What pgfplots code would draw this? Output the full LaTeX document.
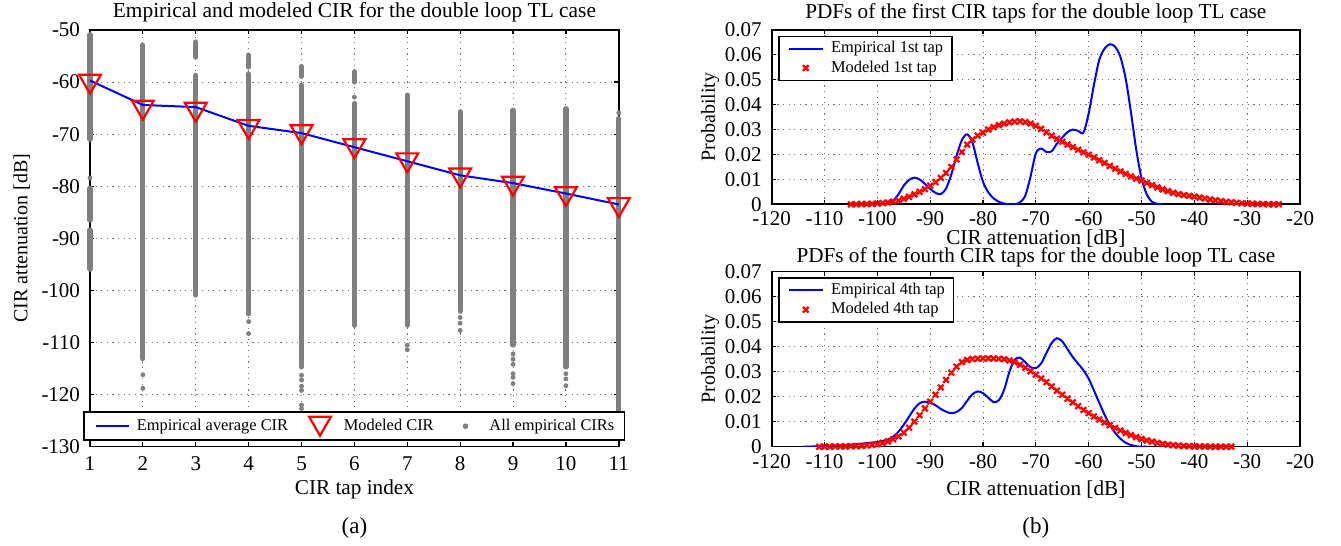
\documentclass[border=0pt]{standalone}
\usepackage{fontspec}
\setmainfont{Liberation Serif}
\usepackage{pgfplots}
\pgfplotsset{compat=1.18}
\definecolor{cirgray}{RGB}{128,128,128}

\pgfplotsset{
  matlab/.style={
    scale only axis, anchor=south west,
    axis line style={line width=0.8pt},
    tick align=inside, major tick length=2.2pt,
    tick style={black, line width=0.6pt},
    grid=major,
    grid style={line width=0.5pt, black!55, dash pattern=on 0.6pt off 2.2pt},
    tick label style={font=\fontsize{10.5}{11}\selectfont},
    scaled x ticks=false, scaled y ticks=false,
    xticklabel style={anchor=base},
    yticklabel style={anchor=east, inner xsep=0pt, xshift=-4.8pt},
    title style={at={(0.5,1)}, anchor=base, font=\fontsize{10.6}{11}\selectfont},
    xlabel style={at={(rel axis cs:0.5,0)}, anchor=base, font=\fontsize{10.6}{11}\selectfont},
    legend cell align=left,
  },
  pdfaxis/.style={
    matlab, width=264.15pt,
    xmin=-120, xmax=-20, ymin=0, ymax=0.07,
    xtick={-120,-110,-100,-90,-80,-70,-60,-50,-40,-30,-20},
    xticklabels={-120,-110,-100,-90,-80,-70,-60,-50,-40,-30,-20},
    ytick={0,0.01,0.02,0.03,0.04,0.05,0.06,0.07},
    yticklabels={0,0.01,0.02,0.03,0.04,0.05,0.06,0.07},
    xlabel={CIR attenuation [dB]},
    legend style={at={(0,1)}, anchor=north west, xshift=3.15pt, yshift=-2.85pt,
      draw=black, line width=0.75pt, fill=white,
      font=\fontsize{8.2}{9}\selectfont, inner xsep=4.4pt, inner ysep=2.2pt,
      row sep=1.75pt, nodes={inner sep=0pt, text height=6pt, text depth=1.9pt},
      /tikz/every odd column/.append style={column sep=3.6pt}},
  },
  emp/.style={blue, line width=1pt, smooth, mark=none,
    legend image code/.code={\draw[##1] (0pt,0pt) -- (17.15pt,0pt);}},
  mod/.style={red, only marks, mark=x, mark size=2pt, line width=1.1pt,
    legend image code/.code={\path[draw=none,fill=none] (0pt,0pt) (17.15pt,0pt);
      \draw[##1] plot coordinates {(8.6pt,0pt)};}},
  leftline/.style={legend image code/.code={\draw[##1] (0pt,0pt) -- (16.5pt,0pt);}},
  leftmark/.style={legend image code/.code={\path[draw=none,fill=none] (0pt,0pt) (16.5pt,0pt);
      \draw[##1] plot coordinates {(8.25pt,0pt)};}},
}

\begin{document}
\begin{tikzpicture}
\useasboundingbox (0pt,0pt) rectangle (670.5pt,273pt);

% (a) tap attenuations
\begin{axis}[matlab, at={(45pt,49.7pt)}, width=264.4pt, height=208.3pt,
  xmin=1, xmax=11, ymin=-130, ymax=-50,
  xtick={1,2,3,4,5,6,7,8,9,10,11},
  xticklabels={1,2,3,4,5,6,7,8,9,10,11},
  ytick={-130,-120,-110,-100,-90,-80,-70,-60,-50},
  yticklabels={-130,-120,-110,-100,-90,-80,-70,-60,-50},
  xticklabel style={yshift=-12pt},
  title={Empirical and modeled CIR for the double loop TL case},
  title style={yshift=0.25pt, font=\fontsize{10.7}{11}\selectfont},
  xlabel={CIR tap index}, xlabel style={yshift=-24.2pt},
  clip=false, unbounded coords=jump,
  legend columns=3,
  legend style={at={(0.5,0)}, anchor=south, yshift=2.8pt,
    draw=black, line width=0.75pt, fill=white,
    font=\fontsize{8.2}{9}\selectfont, inner xsep=5.15pt, inner ysep=2.3pt,
    nodes={inner sep=0pt, text height=5.8pt, text depth=1.8pt},
    /tikz/every odd column/.append style={column sep=3.7pt},
    /tikz/every even column/.append style={column sep=7.7pt}},
]
% dense runs of empirical CIR values, drawn as strips
\addplot[cirgray, line width=2.6pt, line cap=round, forget plot] table {
x y
1 -50.9
1 -71.0
1 nan
1 -80.4
1 -86.5
1 nan
1 -88.4
1 -95.9
1 nan
2 -52.9
2 -113.1
2 nan
3 -52.3
3 -55.2
3 nan
3 -58.7
3 -100.9
3 nan
4 -54.8
4 -57.1
4 nan
4 -58.4
4 -104.5
4 nan
5 -57.0
5 -58.9
5 nan
5 -60.6
5 -114.7
5 nan
6 -58.0
6 -60.0
6 nan
6 -64.1
6 -106.7
6 nan
7 -62.5
7 -106.7
7 nan
8 -65.7
8 -104.0
8 nan
9 -65.4
9 -110.5
9 nan
10 -65.1
10 -114.7
10 nan
11 -67.0
11 -125.0
};
\addplot[cirgray, only marks, mark=*, mark size=1pt, forget plot] table {
x y
1 -78.4
2 -116.2
2 -118.8
4 -106.0
4 -108.3
5 -116.3
5 -117.2
5 -118.4
5 -119.2
5 -122.0
5 -122.7
6 -62.9
7 -110.5
7 -111.4
8 -105.2
8 -106.3
8 -107.7
9 -112.2
9 -113.2
9 -114.2
9 -116.0
9 -116.7
9 -117.9
10 -116.0
10 -117.0
10 -118.3
10 -123.7
11 -65.9
};
\addplot[blue, line width=1pt, mark=none, leftline]
  coordinates {(1,-59.7) (2,-64.4) (3,-64.8) (4,-68.4) (5,-69.8) (6,-72.5)
    (7,-75.2) (8,-77.9) (9,-79.4) (10,-81.4) (11,-83.5)};
\addlegendentry{Empirical average CIR}
\addplot[red, only marks, mark=triangle, mark size=6.3pt, line width=1.1pt,
  mark options={yshift=1.575pt, rotate=180}, leftmark]
  coordinates {(1,-60.4) (2,-65.4) (3,-65.8) (4,-69.1) (5,-70.1) (6,-72.8)
    (7,-75.5) (8,-78.4) (9,-80.0) (10,-82.0) (11,-84.1)};
\addlegendentry{Modeled CIR}
\addlegendimage{cirgray, only marks, mark=*, mark size=1pt, leftmark}
\addlegendentry{All empirical CIRs}
\end{axis}

% (b) top: first tap
\begin{axis}[pdfaxis, at={(385.85pt,170.85pt)}, height=87.15pt,
  xticklabel style={yshift=-10.7pt},
  title={PDFs of the first CIR taps for the double loop TL case},
  title style={yshift=-0.1pt},
  xlabel style={yshift=-20.1pt},
]
\addplot[emp] table {
x y
-100 0
-99 0.0001
-98 0.0003
-97 0.0015
-96 0.0040
-95 0.0075
-94 0.0098
-93 0.0107
-92 0.0100
-91 0.0082
-90 0.0062
-89 0.0046
-88 0.0041
-87 0.0063
-86 0.0120
-85 0.0195
-84 0.0258
-83 0.0281
-82 0.0248
-81 0.0165
-80 0.0090
-79 0.0048
-78 0.0024
-77 0.0010
-76 0.0003
-75 0.0000
-74 0.0000
-73 0.0008
-72 0.0035
-71 0.0112
-70 0.0205
-69 0.0224
-68 0.0210
-67 0.0213
-66 0.0244
-65 0.0268
-64 0.0290
-63 0.0300
-62 0.0295
-61 0.0288
-60 0.0365
-59 0.0480
-58 0.0580
-57 0.0625
-56 0.0643
-55 0.0633
-54 0.0592
-53 0.0505
-52 0.0370
-51 0.0220
-50 0.0105
-49 0.0040
-48 0.0010
-47 0.0002
-46 0
};
\addlegendentry{Empirical 1st tap}
\addplot[mod] table {
x y
-105 0
-104 0
-103 0.0001
-102 0.0001
-101 0.0002
-100 0.0003
-99 0.0005
-98 0.0007
-97 0.0011
-96 0.0015
-95 0.0022
-94 0.0030
-93 0.0040
-92 0.0050
-91 0.0061
-90 0.0075
-89 0.0089
-88 0.0106
-87 0.0126
-86 0.0150
-85 0.0180
-84 0.0210
-83 0.0240
-82 0.0260
-81 0.0276
-80 0.0288
-79 0.0300
-78 0.0310
-77 0.0318
-76 0.0324
-75 0.0329
-74 0.0332
-73 0.0333
-72 0.0330
-71 0.0324
-70 0.0315
-69 0.0303
-68 0.0289
-67 0.0275
-66 0.0263
-65 0.0251
-64 0.0240
-63 0.0230
-62 0.0219
-61 0.0209
-60 0.0199
-59 0.0188
-58 0.0177
-57 0.0166
-56 0.0154
-55 0.0143
-54 0.0132
-53 0.0122
-52 0.0112
-51 0.0103
-50 0.0095
-49 0.0086
-48 0.0077
-47 0.0068
-46 0.0060
-45 0.0053
-44 0.0046
-43 0.0041
-42 0.0037
-41 0.0034
-40 0.0031
-39 0.0027
-38 0.0023
-37 0.0019
-36 0.0016
-35 0.0013
-34 0.0010
-33 0.0008
-32 0.0006
-31 0.0004
-30 0.0003
-29 0.0002
-28 0.0001
-27 0.0001
-26 0
-25 0
-24 0
};
\addlegendentry{Modeled 1st tap}
\end{axis}

% (b) bottom: fourth tap
\begin{axis}[pdfaxis, at={(385.85pt,49.65pt)}, height=87.5pt,
  xticklabel style={yshift=-10.8pt},
  title={PDFs of the fourth CIR taps for the double loop TL case},
  title style={yshift=-1.5pt},
  xlabel style={yshift=-24.5pt},
]
\addplot[emp] table {
x y
-114 0
-112 0.0001
-110 0.0002
-108 0.0004
-106 0.0007
-104 0.0010
-102 0.0014
-100 0.0019
-99 0.0023
-98 0.0029
-97 0.0040
-96 0.0060
-95 0.0088
-94 0.0120
-93 0.0152
-92 0.0174
-91 0.0180
-90 0.0176
-89 0.0166
-88 0.0151
-87 0.0140
-86 0.0134
-85 0.0139
-84 0.0155
-83 0.0184
-82 0.0210
-81 0.0221
-80 0.0214
-79 0.0196
-78 0.0178
-77 0.0186
-76 0.0228
-75 0.0300
-74 0.0348
-73 0.0356
-72 0.0338
-71 0.0318
-70 0.0314
-69 0.0333
-68 0.0375
-67 0.0415
-66 0.0434
-65 0.0421
-64 0.0390
-63 0.0358
-62 0.0332
-61 0.0306
-60 0.0272
-59 0.0225
-58 0.0176
-57 0.0128
-56 0.0088
-55 0.0056
-54 0.0032
-53 0.0016
-52 0.0007
-51 0.0002
-50 0
-49 0
};
\addlegendentry{Empirical 4th tap}
\addplot[mod] table {
x y
-111 0
-110 0
-109 0
-108 0.0001
-107 0.0001
-106 0.0001
-105 0.0002
-104 0.0002
-103 0.0003
-102 0.0005
-101 0.0007
-100 0.0010
-99 0.0015
-98 0.0021
-97 0.0030
-96 0.0041
-95 0.0056
-94 0.0076
-93 0.0100
-92 0.0126
-91 0.0153
-90 0.0180
-89 0.0208
-88 0.0237
-87 0.0267
-86 0.0296
-85 0.0320
-84 0.0338
-83 0.0347
-82 0.0351
-81 0.0352
-80 0.0353
-79 0.0353
-78 0.0353
-77 0.0352
-76 0.0350
-75 0.0345
-74 0.0338
-73 0.0328
-72 0.0316
-71 0.0302
-70 0.0288
-69 0.0273
-68 0.0258
-67 0.0241
-66 0.0224
-65 0.0208
-64 0.0192
-63 0.0177
-62 0.0162
-61 0.0147
-60 0.0134
-59 0.0121
-58 0.0109
-57 0.0097
-56 0.0086
-55 0.0075
-54 0.0065
-53 0.0055
-52 0.0046
-51 0.0038
-50 0.0031
-49 0.0025
-48 0.0020
-47 0.0015
-46 0.0011
-45 0.0008
-44 0.0006
-43 0.0004
-42 0.0003
-41 0.0002
-40 0.0001
-39 0.0001
-38 0.0001
-37 0
-36 0
-35 0
-34 0
-33 0
};
\addlegendentry{Modeled 4th tap}
\end{axis}

\node[rotate=90, font=\fontsize{10}{11}\selectfont] at (10.85pt,153.85pt) {CIR attenuation [dB]};
\node[rotate=90, font=\fontsize{10}{11}\selectfont] at (355pt,214.4pt) {Probability};
\node[rotate=90, font=\fontsize{10}{11}\selectfont] at (355pt,93.4pt) {Probability};
\node[anchor=base, font=\fontsize{11.5}{12}\selectfont] at (177.2pt,6pt) {(a)};
\node[anchor=base, font=\fontsize{11.5}{12}\selectfont] at (517.9pt,6pt) {(b)};
\end{tikzpicture}
\end{document}
